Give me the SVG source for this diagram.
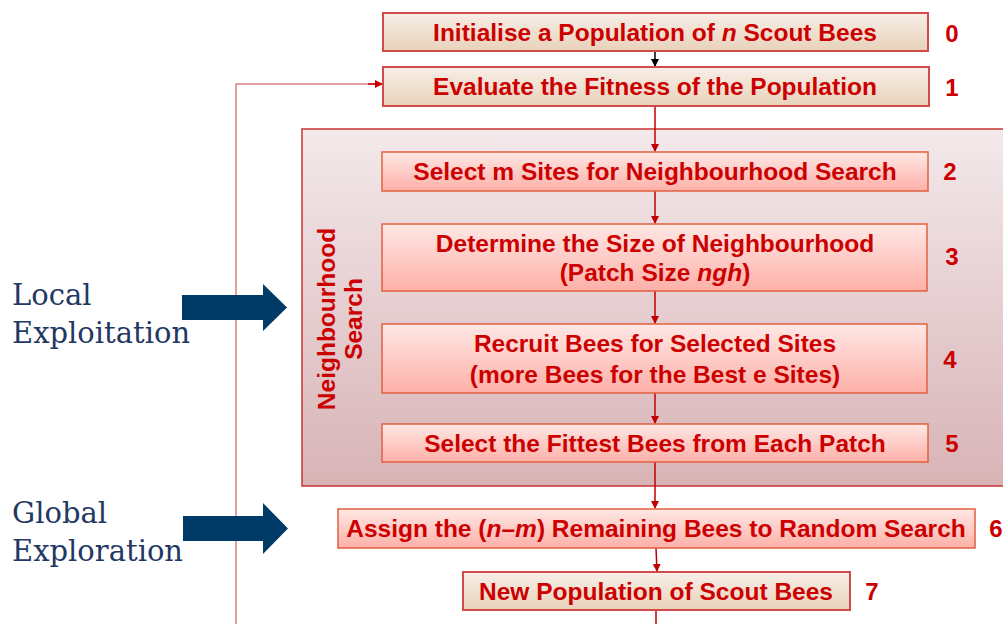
<svg xmlns="http://www.w3.org/2000/svg" width="1003" height="624" viewBox="0 0 1003 624">
<defs>
<linearGradient id="gBeige" x1="0" y1="0" x2="0" y2="1"><stop offset="0" stop-color="#f8eee8"/><stop offset="1" stop-color="#e8d2ba"/></linearGradient>
<linearGradient id="gSalmon" x1="0" y1="0" x2="0" y2="1"><stop offset="0" stop-color="#ffe8e5"/><stop offset="1" stop-color="#fdb0a8"/></linearGradient>
<linearGradient id="gPanel" x1="0" y1="0" x2="0" y2="1"><stop offset="0" stop-color="#f3e9eb"/><stop offset="1" stop-color="#d8b3b6"/></linearGradient>
<marker id="ah" markerWidth="8" markerHeight="8" refX="7" refY="4" orient="auto" markerUnits="userSpaceOnUse"><path d="M0,0 L8,4 L0,8 Z" fill="#c00000"/></marker>
<marker id="ahk" markerWidth="8" markerHeight="8" refX="7" refY="4" orient="auto" markerUnits="userSpaceOnUse"><path d="M0,0 L8,4 L0,8 Z" fill="#000"/></marker>
<style>
.t{font-family:"Liberation Sans",Arial,sans-serif;font-weight:bold;font-size:24.5px;fill:#cc0000;text-anchor:middle;dominant-baseline:central}
.num{font-family:"Liberation Sans",Arial,sans-serif;font-weight:bold;font-size:24px;fill:#cc0000;text-anchor:middle;dominant-baseline:central}
.lbl{font-family:"DejaVu Serif","Liberation Serif",serif;font-size:29px;fill:#1f3864}
.beige{fill:url(#gBeige);stroke:#d24b4b;stroke-width:2}
.salmon{fill:url(#gSalmon);stroke:#e2603f;stroke-width:1.5}
.c{stroke:#c00000;stroke-width:1.5;fill:none}
.fb{stroke:#e3a0a0;stroke-width:2;fill:none}
.big{fill:#003a66}
</style>
</defs>

<g id="panel">
<rect x="302" y="129" width="720" height="357" fill="url(#gPanel)" stroke="#cc3333" stroke-width="1.5"/>
<text class="t" transform="translate(326,319) rotate(-90)">Neighbourhood</text>
<text class="t" transform="translate(353,319) rotate(-90)">Search</text>
</g>

<g id="connectors">
<line x1="655" y1="51" x2="655" y2="66" stroke="#000" stroke-width="1.5" marker-end="url(#ahk)"/>
<line class="c" x1="655" y1="106" x2="655" y2="151" marker-end="url(#ah)"/>
<line class="c" x1="655" y1="191" x2="655" y2="223" marker-end="url(#ah)"/>
<line class="c" x1="655" y1="291" x2="655" y2="323" marker-end="url(#ah)"/>
<line class="c" x1="655" y1="393" x2="655" y2="423" marker-end="url(#ah)"/>
<line class="c" x1="655" y1="462" x2="655" y2="508" marker-end="url(#ah)"/>
<line class="c" x1="656" y1="548" x2="657" y2="571" marker-end="url(#ah)"/>
<line class="c" x1="656" y1="610" x2="656" y2="624"/>
<polyline class="fb" points="236,624 236,84 376,84"/>
<line class="c" x1="368" y1="84" x2="382" y2="84" marker-end="url(#ah)"/>
</g>

<g id="n0"><rect class="beige" x="383" y="13" width="545" height="38"/>
<text class="t" x="655" y="32">Initialise a Population of <tspan font-style="italic">n</tspan> Scout Bees</text>
<text class="num" x="952" y="33">0</text></g>

<g id="n1"><rect class="beige" x="383" y="67" width="546" height="39"/>
<text class="t" x="655" y="86">Evaluate the Fitness of the Population</text>
<text class="num" x="952" y="87">1</text></g>

<g id="n2"><rect class="salmon" x="382" y="152" width="546" height="39"/>
<text class="t" x="655" y="171">Select m Sites for Neighbourhood Search</text>
<text class="num" x="950" y="171">2</text></g>

<g id="n3"><rect class="salmon" x="382" y="224" width="545" height="67"/>
<text class="t" x="655" y="243">Determine the Size of Neighbourhood</text>
<text class="t" x="655" y="272">(Patch Size <tspan font-style="italic">ngh</tspan>)</text>
<text class="num" x="952" y="256">3</text></g>

<g id="n4"><rect class="salmon" x="382" y="324" width="545" height="69"/>
<text class="t" x="655" y="343">Recruit Bees for Selected Sites</text>
<text class="t" x="655" y="374">(more Bees for the Best e Sites)</text>
<text class="num" x="950" y="359">4</text></g>

<g id="n5"><rect class="salmon" x="382" y="424" width="546" height="38"/>
<text class="t" x="655" y="443">Select the Fittest Bees from Each Patch</text>
<text class="num" x="952" y="443">5</text></g>

<g id="n6"><rect class="salmon" x="338" y="509" width="637" height="39"/>
<text class="t" x="656" y="528">Assign the (<tspan font-style="italic">n</tspan>–<tspan font-style="italic">m</tspan>) Remaining Bees to Random Search</text>
<text class="num" x="996" y="528">6</text></g>

<g id="n7"><rect class="beige" x="463" y="572" width="387" height="38"/>
<text class="t" x="656" y="591">New Population of Scout Bees</text>
<text class="num" x="872" y="591">7</text></g>

<g id="local">
<text class="lbl" x="12" y="305">Local</text>
<text class="lbl" x="12" y="343">Exploitation</text>
<path class="big" d="M182,295 L263,295 L263,284 L287,307.5 L263,331 L263,320 L182,320 Z"/>
</g>

<g id="global">
<text class="lbl" x="12" y="523">Global</text>
<text class="lbl" x="12" y="561">Exploration</text>
<path class="big" d="M183,516 L263,516 L263,503 L288,528.5 L263,554 L263,541 L183,541 Z"/>
</g>
</svg>
